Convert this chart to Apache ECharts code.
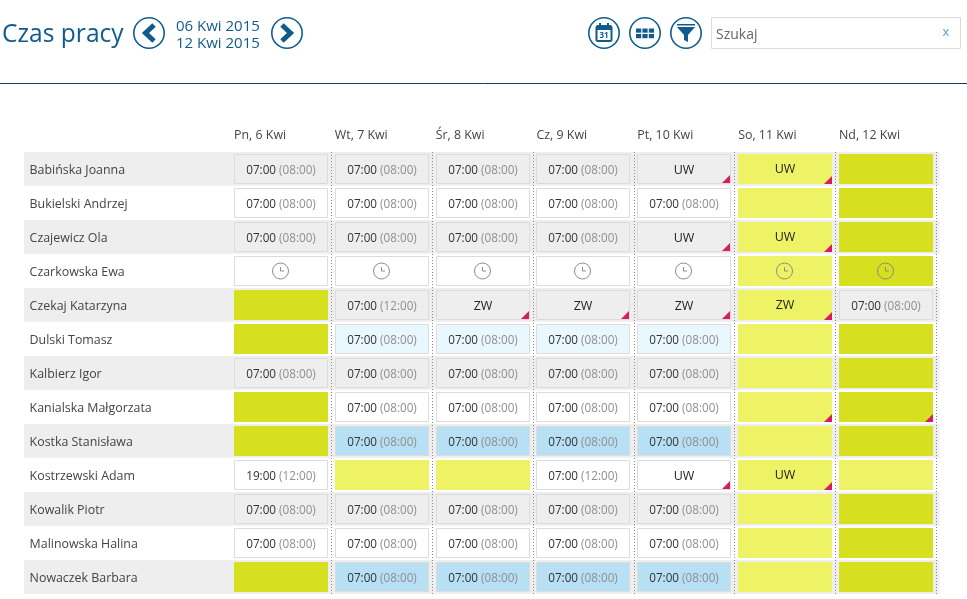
<!DOCTYPE html>
<html><head><meta charset="utf-8">
<style>html,body{margin:0;padding:0;background:#fff}#c{width:967px;height:599px}</style>
<script src="https://cdn.jsdelivr.net/npm/echarts@6/dist/echarts.min.js"></script>
</head><body><div id="c"></div>
<script>
const days = ['Pn, 6 Kwi','Wt, 7 Kwi','Śr, 8 Kwi','Cz, 9 Kwi','Pt, 10 Kwi','So, 11 Kwi','Nd, 12 Kwi'];
const names = ['Babińska Joanna','Bukielski Andrzej','Czajewicz Ola','Czarkowska Ewa','Czekaj Katarzyna','Dulski Tomasz','Kalbierz Igor','Kanialska Małgorzata','Kostka Stanisława','Kostrzewski Adam','Kowalik Piotr','Malinowska Halina','Nowaczek Barbara'];
const S = '07:00 (08:00)', L = '07:00 (12:00)', N = '19:00 (12:00)', K = 'clock', U = 'UW', Z = 'ZW', E = '';
const entries = [
 [S,S,S,S,U,U,E],
 [S,S,S,S,S,E,E],
 [S,S,S,S,U,U,E],
 [K,K,K,K,K,K,K],
 [E,L,Z,Z,Z,Z,S],
 [E,S,S,S,S,E,E],
 [S,S,S,S,S,E,E],
 [E,S,S,S,S,E,E],
 [E,S,S,S,S,E,E],
 [N,E,E,L,U,U,E],
 [S,S,S,S,S,E,E],
 [S,S,S,S,S,E,E],
 [E,S,S,S,S,E,E]
];
// o = outlined, p = pale blue, b = blue, L = light yellow, D = dark yellow
const fillRows = ['oooooLD','oooooLD','oooooLD','oooooLD','DooooLo','DppppLD','oooooLD','DooooLD','DbbbbLD','oLLooLL','oooooLD','oooooLD','DbbbbLD'];
// 1 = red corner marker on the cell
const corners = ['0000110','0000000','0000110','0000000','0011110','0000000','0000000','0000011','0000000','0000110','0000000','0000000','0000000'];

const colors = {p:'#e9f8ff', b:'#b7e0f4', L:'#edf364', D:'#d7e01f'};
const INK = '#333', MUTED = '#8f8f8f', BLUE = '#0f5c8c', FONT = '"Open Sans", sans-serif';

const cells = [];
names.forEach((n,r)=>days.forEach((d,c)=>{
  cells.push({value:[c,r], text:entries[r][c], fill:fillRows[r][c], corner:corners[r][c]==='1'});
}));

function renderBand(params, api){
  const r = api.value(0);
  if (r % 2) return {type:'group',children:[]};
  const p = api.coord([0,r]), s = api.size([1,1]), cs = params.coordSys;
  return {type:'rect', shape:{x:cs.x-206.6, y:p[1]-s[1]/2, width:cs.width+209.8, height:s[1]-.3}, style:{fill:'#eeeeee'}};
}
function renderCell(params, api){
  const cell = cells[params.dataIndex];
  const p = api.coord([cell.value[0],cell.value[1]]), s = api.size([1,1]);
  const w = s[0]-6.8, h = s[1]-4, x = Math.round(p[0]-w/2), y = Math.round(p[1]-h/2);
  const kids = [];
  const col = colors[cell.fill];
  const solid = cell.fill==='L'||cell.fill==='D';
  if (solid) kids.push({type:'rect',shape:{x,y,width:Math.round(w),height:h},style:{fill:col}});
  else {
    const rowFill = cell.fill==='o' ? (cell.value[1]%2?'#ffffff':'#eeeeee') : col;
    kids.push({type:'rect',shape:{x:x+.5,y:y+.5,width:Math.round(w)-1,height:h-1},style:{fill:rowFill,stroke:'#dcdcdc',lineWidth:1}});
  }
  const cx = x+Math.round(w)/2, cy = p[1];
  if (cell.text==='clock'){
    kids.push({type:'circle',shape:{cx:cx-.5,cy:cy,r:8},style:{fill:'none',stroke:'#8c8c8c',lineWidth:1}});
    kids.push({type:'polyline',shape:{points:[[cx-.5,cy-4],[cx-.5,cy],[cx+3,cy]]},style:{fill:'none',stroke:'#8c8c8c',lineWidth:1}});
  } else if (cell.text){
    const off = solid ? 0.5 : 1.5;
    const parts = cell.text.split(' ');
    const text = parts.length>1 ? `{a|${parts[0]}} {b|${parts[1]}}` : `{c|${parts[0]}}`;
    kids.push({type:'text',style:{text,x:cx,y:cy+off,align:'center',verticalAlign:'middle',
      rich:{a:{fontFamily:FONT,fontSize:11.7,fill:INK},b:{fontFamily:FONT,fontSize:11.7,fill:MUTED},c:{fontFamily:FONT,fontSize:12.5,fill:'#222'}},
      font:'11.7px '+FONT}});
  }
  if (cell.corner){
    const rx = x+Math.round(w)-(solid?0:1), by = y+h-(solid?0:1);
    kids.push({type:'polygon',shape:{points:[[rx,by],[rx-8,by],[rx,by-8]]},style:{fill:'#d81c5c'}});
  }
  return {type:'group',children:kids};
}

const chart = echarts.init(document.getElementById('c'),null,{renderer:'canvas'});
function ring(cx,extra){
  return [{type:'circle',shape:{cx,cy:33,r:15.2},style:{fill:'#fff',stroke:BLUE,lineWidth:1.6}}].concat(extra||[]);
}
chart.setOption({
  animation:false,
  backgroundColor:'#fff',
  textStyle:{fontFamily:FONT},
  title:[{text:'Czas pracy',left:2,top:22,padding:0,textStyle:{fontFamily:FONT,fontSize:24.6,fontWeight:'normal',color:BLUE}}],
  grid:{left:230.6,top:152,width:705.8,height:442,containLabel:false},
  xAxis:{type:'category',data:days,position:'top',z:2,axisLine:{show:false},axisTick:{show:false},
    splitLine:{show:true,showMinLine:false,lineStyle:{type:[1,2],color:'#888',width:1}},
    axisLabel:{interval:0,margin:11,formatter:v=>`{t|${v}}`,rich:{t:{width:94,align:'left',fontFamily:FONT,fontSize:12.4,color:'#444'}}}},
  yAxis:{type:'category',data:names,inverse:true,z:2,axisLine:{show:false},axisTick:{show:false},splitLine:{show:false},
    axisLabel:{interval:0,margin:201,align:'left',formatter:v=>`{n|${v}}`,rich:{n:{padding:[3,0,0,0],fontFamily:FONT,fontSize:12.4,color:'#444'}}}},
  series:[
    {type:'custom',name:'rows',silent:true,clip:false,coordinateSystem:'cartesian2d',encode:{x:1,y:0},z:1,data:names.map((n,i)=>[i,0]),
     renderItem:(p,api)=>renderBand(p,api)},
    {type:'custom',name:'cells',silent:true,coordinateSystem:'cartesian2d',encode:{x:0,y:1},z:3,data:cells,renderItem:renderCell}
  ],
  graphic:[
    {type:'line',shape:{x1:0,y1:83.5,x2:967,y2:83.5},style:{stroke:'#123f5e',lineWidth:1}},
    {type:'group',children:ring(149,[{type:'polyline',shape:{points:[[154,25],[145.5,33],[154,41]]},style:{fill:'none',stroke:BLUE,lineWidth:5}}])},
    {type:'group',children:ring(287,[{type:'polyline',shape:{points:[[282,25],[290.5,33],[282,41]]},style:{fill:'none',stroke:BLUE,lineWidth:5}}])},
    {type:'text',style:{text:'06 Kwi 2015',x:176,y:27,verticalAlign:'middle',font:'15px '+FONT,fill:BLUE}},
    {type:'text',style:{text:'12 Kwi 2015',x:176,y:44,verticalAlign:'middle',font:'15px '+FONT,fill:BLUE}},
    {type:'group',children:ring(604,[
      {type:'rect',shape:{x:596.5,y:26,width:15,height:15,r:1.5},style:{fill:'none',stroke:BLUE,lineWidth:2}},
      {type:'rect',shape:{x:596.5,y:26,width:15,height:4},style:{fill:BLUE}},
      {type:'rect',shape:{x:599,y:23,width:2,height:4},style:{fill:BLUE}},
      {type:'rect',shape:{x:607,y:23,width:2,height:4},style:{fill:BLUE}},
      {type:'text',style:{text:'31',x:604,y:36,align:'center',verticalAlign:'middle',font:'bold 8px '+FONT,fill:BLUE}}
    ])},
    {type:'group',children:ring(645,[0,1,2].flatMap(i=>[0,1].map(j=>({type:'rect',shape:{x:636+i*6.4,y:28.5+j*5.5,width:5.2,height:4.2},style:{fill:BLUE}}))))},
    {type:'group',children:ring(686,[
      {type:'rect',shape:{x:677,y:24,width:18,height:1.5},style:{fill:BLUE}},
      {type:'polygon',shape:{points:[[677,27],[695,27],[688,35],[688,42],[684,40],[684,35]]},style:{fill:BLUE}}
    ])},
    {type:'rect',shape:{x:711.5,y:17.5,width:249,height:31},style:{fill:'#fff',stroke:'#dcdcdc',lineWidth:1}},
    {type:'text',style:{text:'Szukaj',x:716,y:35,verticalAlign:'middle',font:'14px '+FONT,fill:'#666'}},
    {type:'text',style:{text:'x',x:946,y:32,align:'center',verticalAlign:'middle',font:'13px '+FONT,fill:'#5b9bd5'}}
  ]
});
</script></body></html>
